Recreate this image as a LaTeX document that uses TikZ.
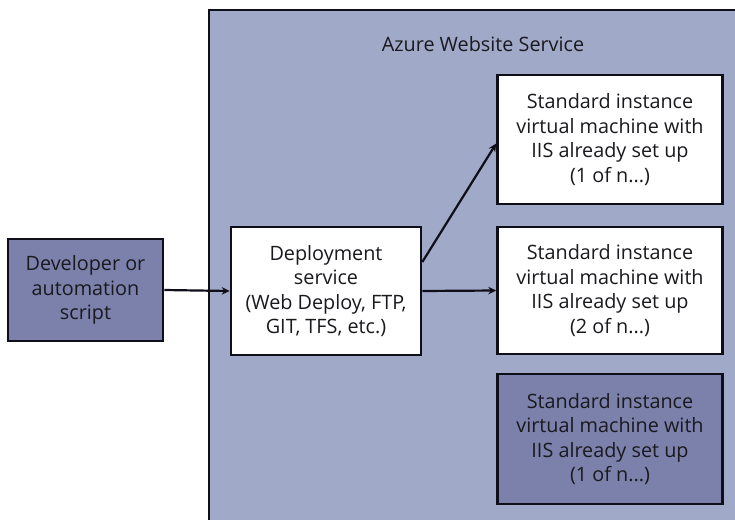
\documentclass[tikz,border=0pt]{standalone}
\usepackage{fontspec}
\setmainfont{Open Sans}
\usetikzlibrary{arrows.meta}
\definecolor{outerfill}{RGB}{161,169,200}
\definecolor{darkfill}{RGB}{123,129,171}
\definecolor{edge}{RGB}{15,15,25}
\definecolor{txt}{RGB}{25,25,30}
\begin{document}
\begin{tikzpicture}[x=1pt,y=-1pt,
  box/.style={draw=edge, line width=2.6pt, rectangle, inner sep=0pt, align=center,
    text=txt, font=\fontsize{19.8}{24.5}\selectfont},
  wbox/.style={box, fill=white},
  dbox/.style={box, fill=darkfill},
  conn/.style={draw=edge, line width=2.2pt, -{Stealth[length=8pt,width=7.5pt]}}]
\useasboundingbox (0,0) rectangle (735,519);
\clip (0,0) rectangle (735,519);
\fill[white] (0,0) rectangle (735,519);
\draw[draw=edge, line width=2.6pt, fill=outerfill] (209,10) rectangle (760,540);
\node[text=txt, font=\fontsize{19.8}{24.5}\selectfont] (title) at (483,44) {Azure Website Service};
\node[dbox, minimum width=155pt, minimum height=102pt] (dev) at (85.5,290) {Developer or\\automation\\script};
\node[wbox, minimum width=190pt, minimum height=128pt] (dep) at (326,291) {Deployment\\service\\(Web Deploy, FTP,\\GIT, TFS, etc.)};
\node[wbox, minimum width=225pt, minimum height=129pt] (vm1) at (610,139.5) {Standard instance\\virtual machine with\\IIS already set up\\(1 of n...)};
\node[wbox, minimum width=225pt, minimum height=127pt] (vm2) at (610,290.5) {Standard instance\\virtual machine with\\IIS already set up\\(2 of n...)};
\node[dbox, minimum width=225pt, minimum height=130pt] (vm3) at (610,439) {Standard instance\\virtual machine with\\IIS already set up\\(1 of n...)};
\draw[conn] (dev.east) -- (dep.west);
\draw[conn] (dep.east) -- (vm2.west);
\draw[conn] ([yshift=29pt]dep.east) -- ([yshift=-4pt]vm1.west);
\end{tikzpicture}
\end{document}
